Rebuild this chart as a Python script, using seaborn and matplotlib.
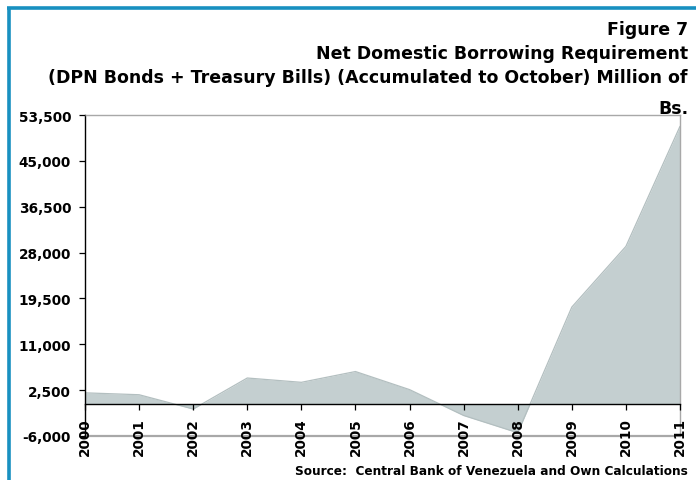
import matplotlib
matplotlib.use("Agg")
import matplotlib.pyplot as plt
from matplotlib.lines import Line2D
from matplotlib.ticker import FuncFormatter, FixedLocator
import seaborn as sns
import pandas as pd

# Net domestic borrowing requirement, accumulated to October (million Bs.)
years = [2000, 2001, 2002, 2003, 2004, 2005, 2006, 2007, 2008, 2009, 2010, 2011]
borrowing = [2000, 1650, -1000, 4750, 3950, 5950, 2600, -2200, -5400, 17900, 29150, 51400]
y_ticks = [-6000, 2500, 11000, 19500, 28000, 36500, 45000, 53500]
title_lines = [
    "Figure 7",
    "Net Domestic Borrowing Requirement",
    "(DPN Bonds + Treasury Bills) (Accumulated to October) Million of",
    "Bs.",
]
source_note = "Source:  Central Bank of Venezuela and Own Calculations"

df = pd.DataFrame({"year": years, "value": borrowing})

sns.set_theme(style="white")
plt.rcParams["font.family"] = ["DejaVu Sans"]
plt.rcParams["axes.unicode_minus"] = False

FILL = "#c4cfd0"
EDGE = "#b3bfc0"
FRAME_BLUE = "#1890c0"
GRID_GRAY = "#a8a8a8"

W, H = 696, 481
fig = plt.figure(figsize=(W / 100, H / 100), dpi=100)
fig.patch.set_facecolor("white")
ax = fig.add_axes([85 / W, 1 - 437 / H, (680 - 85) / W, (437 - 116) / H])
ax.set_axisbelow(False)

ax.fill_between(df["year"], df["value"], 0, color=FILL, linewidth=0, zorder=1)
sns.lineplot(data=df, x="year", y="value", ax=ax, color=EDGE, linewidth=0.9, zorder=1.2)

ax.set_xlim(years[0], years[-1])
ax.set_ylim(y_ticks[0], y_ticks[-1])
ax.set_xlabel("")
ax.set_ylabel("")

# y axis
ax.yaxis.set_major_locator(FixedLocator(y_ticks))
ax.yaxis.set_major_formatter(FuncFormatter(lambda v, _: f"{v:,.0f}"))
ax.tick_params(axis="y", direction="out", length=4, width=0.9, color="black",
               labelcolor="black", pad=6, labelsize=9.8, left=True)
for lbl in ax.get_yticklabels():
    lbl.set_fontweight("bold")

# x axis sits on the zero line
ax.spines["bottom"].set_position(("data", 0))
ax.spines["bottom"].set_color("black")
ax.spines["bottom"].set_linewidth(1.0)
ax.set_xticks(years)
ax.set_xticklabels([str(y) for y in years], rotation=90, fontweight="bold", fontsize=9.8)
ax.tick_params(axis="x", direction="out", length=4.3, width=0.9, color="black",
               labelcolor="black", pad=5.5, bottom=True)

ax.spines["left"].set_color("black")
ax.spines["left"].set_linewidth(1.0)
ax.spines["top"].set_color(GRID_GRAY)
ax.spines["right"].set_color(GRID_GRAY)
for s in ("top", "right"):
    ax.spines[s].set_linewidth(1.0)
ax.axhline(y_ticks[0], color=GRID_GRAY, linewidth=1.6, zorder=0.5, clip_on=False)
ax.set_facecolor("white")

# titles
right_x = 688 / W
baselines = [35, 59, 83, 114]
for txt, b in zip(title_lines, baselines):
    fig.text(right_x, 1 - b / H, txt, ha="right", va="baseline",
             fontsize=12.5, fontweight="bold", color="black")

fig.text(688 / W, 1 - 475 / H, source_note, ha="right", va="baseline",
         fontsize=8.75, fontweight="bold", color="black")

# blue frame
fig.add_artist(Line2D([8.5 / W, 8.5 / W], [0, 1 - 8.5 / H], color=FRAME_BLUE,
                      linewidth=2.6, transform=fig.transFigure, solid_capstyle="butt"))
fig.add_artist(Line2D([7.2 / W, 1], [1 - 9 / H, 1 - 9 / H], color=FRAME_BLUE,
                      linewidth=2.6, transform=fig.transFigure, solid_capstyle="butt"))

fig.savefig("out.png", dpi=100)
